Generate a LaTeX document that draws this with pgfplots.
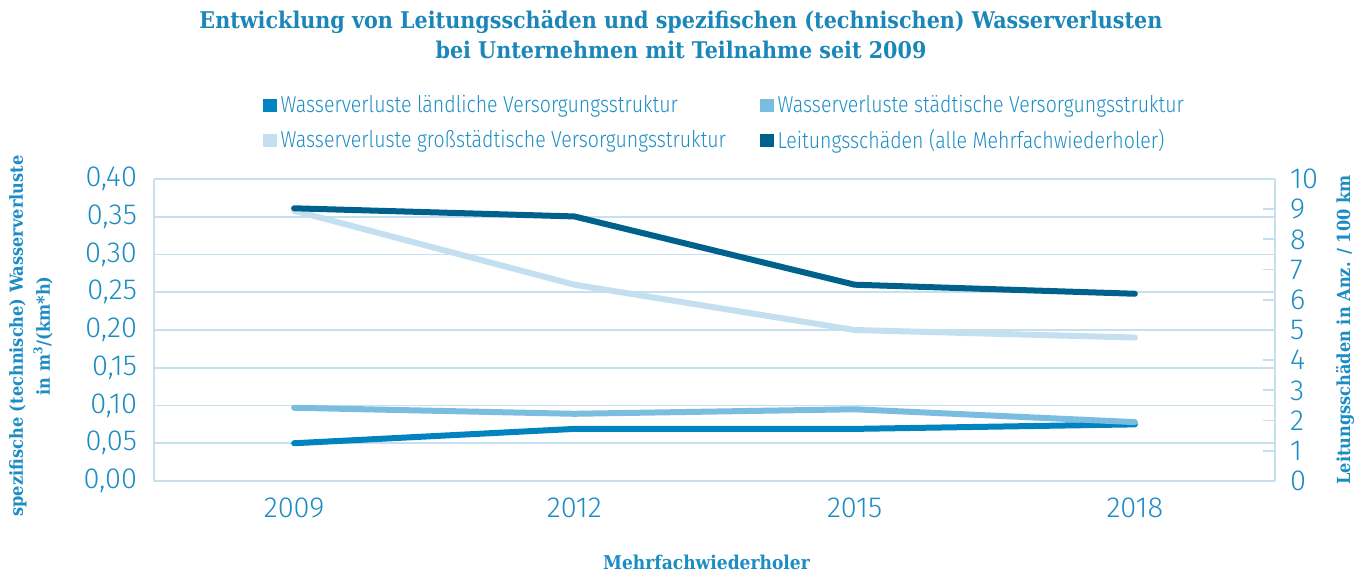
\documentclass[border=0pt]{standalone}
\usepackage{fontspec}
\setmainfont{Fira Sans}[UprightFont={* Light}]
\newfontfamily\slab{DejaVu Serif Condensed}
\newfontfamily\condfont{Fira Sans}[UprightFont={* Light}, FakeStretch=0.85]
\usepackage{pgfplots}
\pgfplotsset{compat=1.18}
\definecolor{cland}{HTML}{0083BE}
\definecolor{cstadt}{HTML}{7BBDE0}
\definecolor{cgross}{HTML}{C3DFF0}
\definecolor{cleit}{HTML}{00618C}
\definecolor{cgrid}{HTML}{C6E0EF}
\definecolor{ctext}{HTML}{1C8DC4}
\definecolor{ctitle}{HTML}{1B86B8}
\begin{document}
\begin{tikzpicture}
\useasboundingbox (0,0) rectangle (683.5pt,286.5pt);
\begin{axis}[
  at={(77pt,46pt)}, anchor=south west,
  width=560.5pt, height=151pt, scale only axis,
  xmin=-0.5, xmax=3.5, ymin=0, ymax=0.4,
  xtick={0,1,2,3}, xticklabels={2009,2012,2015,2018},
  ytick={0,0.05,...,0.41},
  ymajorgrids, major grid style={cgrid, line width=0.9pt},
  axis line style={cgrid, line width=0.9pt},
  axis y line*=left, axis x line*=bottom,
  major tick length=0pt,
  /pgf/number format/assume math mode=true,
  /pgf/number format/fixed, /pgf/number format/fixed zerofill,
  /pgf/number format/precision=2, /pgf/number format/use comma,
  yticklabel style={font=\fontsize{14.5pt}{16pt}\selectfont, text=ctext, xshift=-5pt},
  xticklabel style={font=\fontsize{14.5pt}{16pt}\selectfont, text=ctext, yshift=-5pt},
  title={Entwicklung von Leitungsschäden und spezifischen (technischen) Wasserverlusten\\bei Unternehmen mit Teilnahme seit 2009},
  title style={at={(axis description cs:0.5,1)}, anchor=center, yshift=66pt, xshift=-16.75pt, align=center, font=\slab\bfseries\fontsize{11.5pt}{15pt}\selectfont, text=ctitle},
  xlabel={Mehrfachwiederholer},
  xlabel style={at={(axis description cs:0.5,0)}, anchor=center, yshift=-40.5pt, xshift=-4pt, font=\slab\bfseries\fontsize{9.5pt}{11pt}\selectfont, text=ctext},
  ylabel={spezifische (technische) Wasserverluste\\in m\textsuperscript{3}/(km*h)},
  ylabel style={at={([xshift=-61.5pt,yshift=-3pt]axis description cs:0,0.5)}, anchor=center, align=center, font=\slab\bfseries\fontsize{9pt}{13.5pt}\selectfont, text=ctext},
  legend columns=2, legend cell align=left,
  legend style={at={(axis description cs:0.5,1)}, anchor=center, yshift=27.75pt, xshift=5.5pt, draw=none, fill=none,
    font=\condfont\fontsize{11.5pt}{13pt}\selectfont, text=ctext,
    /tikz/every even column/.append style={column sep=15pt},
    row sep=3pt},
  legend image code/.code={\fill[#1, draw=none] (0pt,-3.4pt) rectangle (6.8pt,3.4pt);},
  every axis plot/.append style={line width=3pt, line join=round, line cap=round},
]
\addplot[cland] coordinates {(0,0.050) (1,0.069) (2,0.069) (3,0.075)};
\addlegendentry{Wasserverluste ländliche Versorgungsstruktur}
\addplot[cstadt] coordinates {(0,0.097) (1,0.089) (2,0.095) (3,0.078)};
\addlegendentry{Wasserverluste städtische Versorgungsstruktur}
\addplot[cgross] coordinates {(0,0.358) (1,0.260) (2,0.200) (3,0.190)};
\addlegendentry{Wasserverluste großstädtische Versorgungsstruktur}
\addlegendimage{cleit}
\addlegendentry{Leitungsschäden (alle Mehrfachwiederholer)}
\end{axis}
\begin{axis}[
  at={(77pt,46pt)}, anchor=south west,
  width=560.5pt, height=151pt, scale only axis,
  xmin=-0.5, xmax=3.5, ymin=0, ymax=10,
  axis y line*=right, axis x line=none,
  ytick={0,1,...,10},
  axis line style={cgrid, line width=0.9pt},
  tick style={cgrid, line width=0.9pt}, major tick length=6pt, tick align=inside,
  /pgf/number format/assume math mode=true,
  yticklabel style={font=\fontsize{14.5pt}{16pt}\selectfont, text=ctext, xshift=4pt},
  ylabel={Leitungsschäden in Anz. / 100 km},
  ylabel style={at={([xshift=35pt]axis description cs:1,0.5)}, anchor=center, font=\slab\bfseries\fontsize{9pt}{11pt}\selectfont, text=ctext},
  every axis plot/.append style={line width=3pt, line join=round, line cap=round},
]
\addplot[cleit] coordinates {(0,9.03) (1,8.76) (2,6.50) (3,6.20)};
\end{axis}
\end{tikzpicture}
\end{document}
